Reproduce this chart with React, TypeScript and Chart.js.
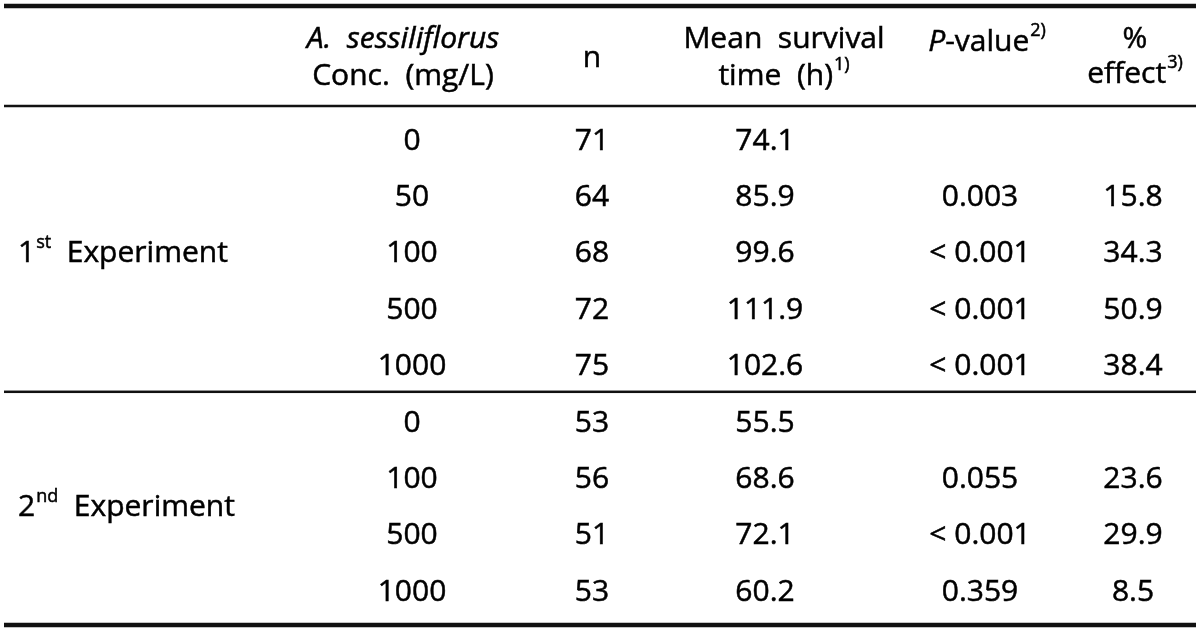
import React, { useEffect, useRef } from "react";
import { Chart, registerables } from "chart.js";

Chart.register(...registerables);

// ---- data ----
const groups = ["1st Experiment", "2nd Experiment"];
const groupOrdinals = ["1", "2"];
const groupSuffixes = ["st", "nd"];
const groupRowSpans = [5, 4];
const concentrations = ["0", "50", "100", "500", "1000", "0", "100", "500", "1000"];
const nValues = ["71", "64", "68", "72", "75", "53", "56", "51", "53"];
const meanSurvival = ["74.1", "85.9", "99.6", "111.9", "102.6", "55.5", "68.6", "72.1", "60.2"];
const pValues = ["", "0.003", "< 0.001", "< 0.001", "< 0.001", "", "0.055", "< 0.001", "0.359"];
const effects = ["", "15.8", "34.3", "50.9", "38.4", "", "23.6", "29.9", "8.5"];

type Seg = { t: string; italic?: boolean; sup?: boolean };
const headerConc: Seg[][] = [[{ t: "A.  sessiliflorus", italic: true }], [{ t: "Conc.  (mg/L)" }]];
const headerN: Seg[][] = [[{ t: "n" }]];
const headerMean: Seg[][] = [[{ t: "Mean  survival" }], [{ t: "time  (h)" }, { t: "1)", sup: true }]];
const headerP: Seg[][] = [[{ t: "P", italic: true }, { t: "-value" }, { t: "2)", sup: true }]];
const headerEffect: Seg[][] = [[{ t: "%" }], [{ t: "effect" }, { t: "3)", sup: true }]];

// ---- layout (pixels / row units) ----
const FONT = '"Open Sans", sans-serif';
const FS = 30;
const SUP = 18;
const WEIGHT = "500";
const ROW_TOP = 141;
const ROW_H = 56.4;
const Y_MIN = -ROW_TOP / ROW_H;
const Y_MAX = (630 - ROW_TOP) / ROW_H;
const COL_GROUP = 18;
const COL_CONC = 412;
const COL_N = 592;
const COL_MEAN = 765;
const COL_P = 980;
const COL_EFF = 1133;

function segFont(s: Seg) {
  return `${s.italic ? "italic " : ""}${WEIGHT} ${s.sup ? SUP : FS}px ${FONT}`;
}

function drawSegs(ctx: CanvasRenderingContext2D, segs: Seg[], x: number, y: number, align: "center" | "left") {
  let total = 0;
  const widths = segs.map((s) => {
    ctx.font = segFont(s);
    const w = ctx.measureText(s.t).width + (s.sup ? 1 : 0);
    total += w;
    return w;
  });
  let cx = align === "center" ? x - total / 2 : x;
  segs.forEach((s, i) => {
    ctx.font = segFont(s);
    ctx.textAlign = "left";
    ctx.textBaseline = "middle";
    const tx = cx + (s.sup ? 1 : 0);
    const ty = s.sup ? y - 11 : y;
    ctx.fillText(s.t, tx, ty);
    ctx.strokeText(s.t, tx, ty);
    cx += widths[i];
  });
}

const tablePlugin = {
  id: "tablePlugin",
  afterDatasetsDraw(chart: any) {
    const ctx: CanvasRenderingContext2D = chart.ctx;
    const ys = chart.scales.y;
    const xs = chart.scales.x;
    ctx.save();
    ctx.fillStyle = "#111";
    const rule = (v: number, th: number) => {
      const y = ys.getPixelForValue(v);
      ctx.fillRect(xs.getPixelForValue(4), y - th / 2, xs.getPixelForValue(1196) - xs.getPixelForValue(4), th);
    };
    rule((6 - ROW_TOP) / ROW_H, 4.5);
    rule((106 - ROW_TOP) / ROW_H, 2.5);
    rule(groupRowSpans[0] - 0.5 - 3 / ROW_H, 2.5);
    rule((625 - ROW_TOP) / ROW_H, 4.5);
    ctx.fillStyle = "#000";
    ctx.strokeStyle = "#000";
    ctx.lineWidth = 0.5;
    chart.data.datasets.forEach((ds: any, di: number) => {
      const meta = chart.getDatasetMeta(di);
      meta.data.forEach((pt: any, j: number) => {
        const cell = ds.cells[j];
        if (!cell) return;
        drawSegs(ctx, cell, pt.x, pt.y, ds.align || "center");
      });
    });
    ctx.restore();
  },
};

function buildDatasets() {
  const plain = (arr: string[]) => arr.map((t) => (t ? [{ t }] : null));
  const col = (x: number, arr: string[]) => ({
    data: arr.map((_, i) => ({ x, y: i })),
    cells: plain(arr),
  });
  const groupStarts = groupRowSpans.map((_, i) => groupRowSpans.slice(0, i).reduce((a, b) => a + b, 0));
  const datasets: any[] = [
    col(COL_CONC, concentrations),
    col(COL_N, nValues),
    col(COL_MEAN, meanSurvival),
    col(COL_P, pValues),
    col(COL_EFF, effects),
    {
      data: groups.map((_, i) => ({ x: COL_GROUP, y: groupStarts[i] + (groupRowSpans[i] - 1) / 2 })),
      cells: groups.map((g, i) => [
        { t: groupOrdinals[i] },
        { t: groupSuffixes[i], sup: true },
        { t: "  " + g.replace(/^\S+\s+/, "") },
      ]),
      align: "left",
    },
  ];
  const hy = (p: number) => (p - ROW_TOP) / ROW_H;
  const header = (x: number, lines: Seg[][], ys: number[]) => ({
    data: lines.map((_, i) => ({ x, y: ys[i] })),
    cells: lines,
  });
  datasets.push(header(403, headerConc, [hy(39), hy(76)]));
  datasets.push(header(COL_N, headerN, [hy(58)]));
  datasets.push(header(784, headerMean, [hy(39), hy(76)]));
  datasets.push(header(987, headerP, [hy(42)]));
  datasets.push(header(1135, headerEffect, [hy(39), hy(74)]));
  return datasets;
}

export default function App() {
  const ref = useRef<HTMLCanvasElement>(null);
  useEffect(() => {
    if (!ref.current) return;
    const chart = new Chart(ref.current, {
      type: "scatter",
      data: { datasets: buildDatasets() },
      options: {
        animation: false,
        responsive: false,
        maintainAspectRatio: false,
        layout: { padding: 0 },
        elements: { point: { radius: 0, hoverRadius: 0 } },
        plugins: { legend: { display: false }, tooltip: { enabled: false } },
        events: [],
        scales: {
          x: { type: "linear", min: 0, max: 1200, display: false },
          y: { type: "linear", min: Y_MIN, max: Y_MAX, reverse: true, display: false },
        },
      } as any,
      plugins: [tablePlugin],
    });
    return () => chart.destroy();
  }, []);
  return (
    <div style={{ position: "fixed", left: 0, top: 0, width: 1200, height: 630, background: "#fff" }}>
      <canvas ref={ref} width={1200} height={630} style={{ display: "block", width: 1200, height: 630 }} />
    </div>
  );
}
